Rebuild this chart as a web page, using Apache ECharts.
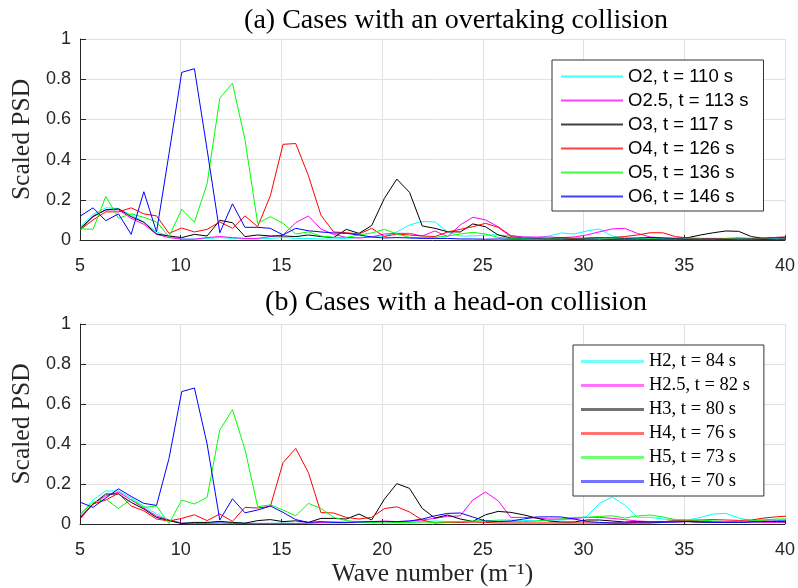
<!DOCTYPE html>
<html>
<head>
<meta charset="utf-8">
<script src="https://cdn.jsdelivr.net/npm/echarts@6/dist/echarts.min.js"></script>
<style>
html,body{margin:0;padding:0;background:#fff;}
#chart{width:798px;height:588px;}
</style>
</head>
<body>
<div id="chart"></div>
<script>
// wave numbers (m^-1)
var waveNumbers = [5.03,5.65,6.28,6.91,7.54,8.17,8.80,9.42,10.05,10.68,11.31,11.94,12.57,13.19,13.82,14.45,15.08,15.71,16.34,16.96,17.59,18.22,18.85,19.48,20.11,20.73,21.36,21.99,22.62,23.25,23.88,24.50,25.13,25.76,26.39,27.02,27.65,28.27,28.90,29.53,30.16,30.79,31.42,32.04,32.67,33.30,33.93,34.56,35.19,35.81,36.44,37.07,37.70,38.33,38.96,39.58,40.21];

var xTicks = [5,10,15,20,25,30,35,40];
var yTicks = [0,0.2,0.4,0.6,0.8,1];

// (a) overtaking collision
var namesA = ['O2, t = 110 s','O2.5, t = 113 s','O3, t = 117 s','O4, t = 126 s','O5, t = 136 s','O6, t = 146 s'];
var O2 = [0.066,0.128,0.16,0.157,0.124,0.09,0.04,0.017,0.005,0.005,
  0.008,0.012,0.008,0.005,0.005,0.008,0.012,0.008,0.008,0.005,
  0.005,0.008,0.012,0.017,0.02,0.04,0.075,0.092,0.09,0.04,
  0.02,0.02,0.025,0.025,0.02,0.015,0.01,0.02,0.035,0.03,
  0.045,0.055,0.02,0.01,0.008,0.005,0.005,0.008,0.005,0.005,
  0.008,0.005,0.005,0.005,0.008,0.005,0.005];
var O25 = [0.05,0.12,0.15,0.15,0.108,0.078,0.028,0.012,0.004,0.004,
  0.012,0.017,0.012,0.008,0.008,0.017,0.025,0.086,0.12,0.055,
  0.028,0.013,0.01,0.015,0.03,0.033,0.033,0.02,0.045,0.017,
  0.075,0.113,0.10,0.066,0.022,0.015,0.015,0.015,0.012,0.015,
  0.025,0.041,0.055,0.058,0.033,0.015,0.01,0.008,0.008,0.005,
  0.005,0.005,0.006,0.005,0.004,0.005,0.005];
var O3 = [0.06,0.116,0.15,0.155,0.116,0.088,0.03,0.02,0.012,0.028,
  0.02,0.098,0.086,0.017,0.025,0.02,0.02,0.017,0.025,0.017,
  0.012,0.053,0.033,0.072,0.207,0.303,0.237,0.07,0.058,0.041,
  0.04,0.08,0.066,0.025,0.01,0.008,0.008,0.008,0.01,0.008,
  0.008,0.012,0.01,0.008,0.01,0.012,0.01,0.008,0.012,0.025,
  0.036,0.045,0.043,0.017,0.008,0.013,0.01];
var O4 = [0.053,0.10,0.14,0.14,0.16,0.13,0.12,0.033,0.06,0.04,
  0.053,0.09,0.058,0.12,0.066,0.22,0.476,0.48,0.32,0.124,
  0.04,0.036,0.03,0.058,0.017,0.03,0.025,0.02,0.017,0.04,
  0.053,0.066,0.083,0.063,0.017,0.01,0.008,0.008,0.01,0.008,
  0.01,0.012,0.012,0.017,0.025,0.036,0.036,0.017,0.01,0.008,
  0.008,0.008,0.01,0.008,0.01,0.013,0.017];
var O5 = [0.056,0.053,0.217,0.108,0.13,0.113,0.09,0.017,0.153,0.088,
  0.28,0.705,0.78,0.50,0.083,0.116,0.083,0.03,0.04,0.02,
  0.013,0.013,0.025,0.035,0.053,0.03,0.013,0.013,0.013,0.02,
  0.03,0.038,0.03,0.013,0.008,0.008,0.005,0.006,0.005,0.004,
  0.005,0.006,0.005,0.004,0.005,0.006,0.005,0.004,0.005,0.005,
  0.004,0.005,0.006,0.005,0.004,0.005,0.005];
var O6 = [0.12,0.16,0.096,0.13,0.028,0.24,0.04,0.43,0.834,0.852,
  0.45,0.036,0.18,0.063,0.063,0.058,0.025,0.058,0.046,0.04,
  0.035,0.033,0.025,0.015,0.01,0.012,0.01,0.008,0.008,0.008,
  0.005,0.005,0.004,0.005,0.004,0.004,0.005,0.004,0.004,0.003,
  0.004,0.004,0.003,0.004,0.004,0.003,0.004,0.004,0.003,0.004,
  0.004,0.003,0.004,0.004,0.003,0.004,0.004];

// (b) head-on collision
var namesB = ['H2, t = 84 s','H2.5, t = 82 s','H3, t = 80 s','H4, t = 76 s','H5, t = 73 s','H6, t = 70 s'];
var H2 = [0.05,0.12,0.165,0.165,0.13,0.09,0.05,0.02,0.005,0.005,
  0.005,0.008,0.005,0.005,0.003,0.003,0.005,0.003,0.003,0.005,
  0.005,0.005,0.008,0.01,0.012,0.01,0.01,0.012,0.015,0.012,
  0.01,0.012,0.015,0.02,0.02,0.018,0.015,0.02,0.02,0.025,
  0.038,0.103,0.135,0.095,0.033,0.033,0.025,0.02,0.02,0.033,
  0.05,0.053,0.03,0.017,0.025,0.02,0.02];
var H25 = [0.04,0.1,0.14,0.16,0.12,0.08,0.04,0.02,0.005,0.003,
  0.003,0.005,0.003,0.003,0.003,0.003,0.003,0.003,0.005,0.008,
  0.01,0.008,0.01,0.012,0.015,0.012,0.015,0.02,0.028,0.038,
  0.041,0.12,0.16,0.116,0.033,0.033,0.03,0.025,0.025,0.028,
  0.033,0.033,0.028,0.022,0.015,0.012,0.01,0.01,0.012,0.01,
  0.01,0.008,0.008,0.01,0.008,0.008,0.01];
var H3 = [0.033,0.1,0.15,0.15,0.108,0.075,0.033,0.017,0.002,0.008,
  0.008,0.013,0.008,0.004,0.017,0.022,0.012,0.016,0.008,0.028,
  0.028,0.025,0.05,0.02,0.124,0.202,0.178,0.078,0.03,0.045,
  0.025,0.013,0.046,0.063,0.058,0.046,0.03,0.015,0.01,0.01,
  0.02,0.02,0.015,0.01,0.012,0.01,0.012,0.015,0.012,0.01,
  0.01,0.012,0.01,0.012,0.015,0.012,0.01];
var H4 = [0.028,0.10,0.12,0.154,0.09,0.066,0.025,0.015,0.028,0.046,
  0.017,0.05,0.013,0.083,0.08,0.088,0.307,0.378,0.257,0.057,
  0.055,0.033,0.025,0.033,0.077,0.086,0.06,0.02,0.005,0.008,
  0.008,0.01,0.008,0.005,0.005,0.005,0.005,0.005,0.005,0.005,
  0.005,0.005,0.005,0.005,0.008,0.01,0.012,0.015,0.017,0.02,
  0.022,0.02,0.018,0.02,0.03,0.036,0.04];
var H5 = [0.05,0.108,0.124,0.078,0.124,0.083,0.09,0.002,0.12,0.10,
  0.133,0.47,0.572,0.373,0.086,0.096,0.07,0.041,0.103,0.078,
  0.033,0.017,0.01,0.008,0.005,0.008,0.008,0.01,0.008,0.01,
  0.012,0.015,0.017,0.015,0.012,0.012,0.015,0.02,0.025,0.033,
  0.033,0.038,0.041,0.03,0.04,0.045,0.035,0.022,0.02,0.02,
  0.015,0.012,0.01,0.015,0.02,0.025,0.025];
var H6 = [0.108,0.083,0.13,0.176,0.138,0.103,0.093,0.328,0.662,0.68,
  0.40,0.02,0.126,0.056,0.07,0.09,0.058,0.022,0.008,0.012,
  0.008,0.008,0.01,0.012,0.012,0.012,0.015,0.025,0.041,0.053,
  0.055,0.035,0.015,0.012,0.015,0.025,0.035,0.036,0.035,0.025,
  0.012,0.008,0.005,0.005,0.005,0.005,0.008,0.01,0.012,0.01,
  0.008,0.008,0.008,0.01,0.012,0.015,0.015];

var colors = ['#00ffff','#ff00ff','#000000','#ff0000','#00ff00','#0000ff'];
var seriesA = [O2,O25,O3,O4,O5,O6];
var seriesB = [H2,H25,H3,H4,H5,H6];

function pairs(ys){ return ys.map(function(v,i){ return [waveNumbers[i], v]; }); }

var axisCol = '#262626';
var sans = 'Liberation Sans';
var serif = 'Liberation Serif';

function xAxisCfg(idx, withName){
  var c = {
    type:'value', gridIndex:idx, min:xTicks[0], max:xTicks[xTicks.length-1], interval:5,
    axisLine:{show:true, onZero:false, lineStyle:{color:axisCol, width:1}},
    axisTick:{show:true, inside:true, length:5, lineStyle:{color:axisCol}},
    axisLabel:{fontFamily:sans, fontSize:18, color:axisCol, margin:17},
    splitLine:{show:true, lineStyle:{color:'#e1e1e1', width:1}}
  };
  if(withName){
    c.name = 'Wave number (m\u207B\u00B9)';
    c.nameLocation = 'middle';
    c.nameGap = 37;
    c.nameTextStyle = {fontFamily:serif, fontSize:25.5, color:axisCol};
  }
  return c;
}
function yAxisCfg(idx){
  return {
    type:'value', gridIndex:idx, min:yTicks[0], max:yTicks[yTicks.length-1], interval:0.2,
    name:'Scaled PSD', nameLocation:'middle', nameGap:45, nameRotate:90,
    nameTextStyle:{fontFamily:serif, fontSize:25.5, color:axisCol},
    axisLine:{show:true, lineStyle:{color:axisCol, width:1}},
    axisTick:{show:true, inside:true, length:6, lineStyle:{color:axisCol}},
    axisLabel:{fontFamily:sans, fontSize:18, color:axisCol, margin:9},
    splitLine:{show:true, lineStyle:{color:'#e1e1e1', width:1}}
  };
}

var series = [];
seriesA.forEach(function(d,i){
  series.push({name:namesA[i], type:'line', xAxisIndex:0, yAxisIndex:0, data:pairs(d),
    symbol:'none', color:colors[i], lineStyle:{width:1, color:colors[i]}, clip:true});
});
seriesB.forEach(function(d,i){
  series.push({name:namesB[i], type:'line', xAxisIndex:1, yAxisIndex:1, data:pairs(d),
    symbol:'none', color:colors[i], lineStyle:{width:1, color:colors[i]}, clip:true});
});

var option = {
  animation:false,
  backgroundColor:'#fff',
  title:[
    {text:'(a) Cases with an overtaking collision', left:451, top:2, textAlign:'center',
     textStyle:{fontFamily:serif, fontSize:28, fontWeight:'normal', color:'#000'}},
    {text:'(b) Cases with a head-on collision', left:451, top:284, textAlign:'center',
     textStyle:{fontFamily:serif, fontSize:28, fontWeight:'normal', color:'#000'}}
  ],
  grid:[
    {left:80, right:11, top:39, height:201},
    {left:80, right:11, top:324, height:201}
  ],
  xAxis:[xAxisCfg(0,false), xAxisCfg(1,true)],
  yAxis:[yAxisCfg(0), yAxisCfg(1)],
  legend:[
    {data:namesA, orient:'vertical', left:552, top:60, icon:'rect', itemWidth:62, itemHeight:2,
     itemGap:5, padding:[7,15,5,9], borderColor:'#333', borderWidth:1, backgroundColor:'#fff',
     itemStyle:{opacity:0.75},
     textStyle:{fontFamily:sans, fontSize:18.5, lineHeight:18, color:'#000'}},
    {data:namesB, orient:'vertical', left:573, top:345, icon:'rect', itemWidth:63, itemHeight:3,
     itemGap:5, padding:[7,14,5,8], borderColor:'#333', borderWidth:1, backgroundColor:'#fff',
     itemStyle:{opacity:0.55},
     textStyle:{fontFamily:serif, fontSize:18.5, lineHeight:18, color:'#000'}}
  ],
  series:series
};

var chart = echarts.init(document.getElementById('chart'), null, {renderer:'canvas'});
chart.setOption(option);
</script>
</body>
</html>
